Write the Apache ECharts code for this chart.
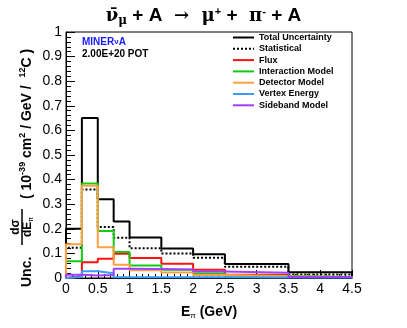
<!DOCTYPE html>
<html>
<head>
    <meta charset="UTF-8">
    <title>Cross section uncertainties vs pion energy</title>
    <script src="https://cdn.jsdelivr.net/npm/echarts@6/dist/echarts.min.js"></script>
    <style>
        html, body { margin: 0; padding: 0; background: #fff; }
        #chart { width: 407px; height: 328px; }
    </style>
</head>
<body>
<div id="chart"></div>
<script>
    // bin edges (GeV) and fractional uncertainty per bin
    const binEdges = [0, 0.25, 0.5, 0.75, 1, 1.5, 2, 2.5, 3.5, 4.5];
    const xTicks = [0, 0.5, 1, 1.5, 2, 2.5, 3, 3.5, 4, 4.5];
    const yTicks = [0, 0.1, 0.2, 0.3, 0.4, 0.5, 0.6, 0.7, 0.8, 0.9, 1];

    const totalUnc       = [0.200, 0.650, 0.320, 0.230, 0.165, 0.120, 0.097, 0.057, 0.023];
    const statUnc        = [0.123, 0.360, 0.207, 0.164, 0.121, 0.100, 0.082, 0.046, 0.014];
    const fluxUnc        = [0.007, 0.064, 0.078, 0.099, 0.081, 0.058, 0.034, 0.013, 0.004];
    const interactionUnc = [0.068, 0.384, 0.191, 0.106, 0.051, 0.034, 0.018, 0.009, 0.004];
    const detectorUnc    = [0.137, 0.375, 0.125, 0.054, 0.031, 0.022, 0.012, 0.007, 0.004];
    const vertexUnc      = [0.004, 0.027, 0.019, 0.003, 0.003, 0.003, 0.003, 0.002, 0.002];
    const sidebandUnc    = [0.013, 0.010, 0.012, 0.038, 0.037, 0.035, 0.026, 0.021, 0.004];

    const seriesDefs = [
        { name: 'Total Uncertainty', data: totalUnc, color: '#000000', type: 'solid' },
        { name: 'Statistical', data: statUnc, color: '#000000', type: [2, 2] },
        { name: 'Flux', data: fluxUnc, color: '#ff1111', type: 'solid' },
        { name: 'Interaction Model', data: interactionUnc, color: '#11cc11', type: 'solid' },
        { name: 'Detector Model', data: detectorUnc, color: '#ffa040', type: 'solid' },
        { name: 'Vertex Energy', data: vertexUnc, color: '#3a9cff', type: 'solid' },
        { name: 'Sideband Model', data: sidebandUnc, color: '#a040ff', type: 'solid' }
    ];

    const FONT = 'Liberation Sans, Arial, Helvetica, sans-serif';

    // histogram outline: points at bin edges, drawn with step 'end'
    function histPoints(vals) {
        const pts = [[binEdges[0], 0]];
        vals.forEach((v, i) => pts.push([binEdges[i], v]));
        pts.push([binEdges[binEdges.length - 1], vals[vals.length - 1]]);
        pts.push([binEdges[binEdges.length - 1], 0]);
        return pts;
    }

    const chart = echarts.init(document.getElementById('chart'));

    const option = {
        animation: false,
        title: {
            left: 'center',
            top: 0,
            text: '{nu|\u03bd\u0304}{sub|\u03bc}{b| + A }{g| \u2192  \u03bc}{sup|+}{b| + }{g| \u03c0}{sup|-}{b| + A}',
            textStyle: {
                rich: {
                    b: { fontFamily: FONT, fontWeight: 'bold', fontSize: 19, color: '#000' },
                    g: { fontFamily: 'DejaVu Serif', fontSize: 18, color: '#000' },
                    nu: { fontFamily: 'DejaVu Serif', fontSize: 18, color: '#000' },
                    sub: { fontFamily: 'DejaVu Serif', fontSize: 12, color: '#000', padding: [10, 0, 0, 0] },
                    sup: { fontFamily: FONT, fontWeight: 'bold', fontSize: 11, color: '#000', padding: [0, 0, 9, 0] }
                }
            }
        },
        grid: {
            left: 66, right: 55, top: 32, bottom: 50,
            show: true, borderColor: '#000', borderWidth: 1, backgroundColor: '#fff'
        },
        legend: {
            orient: 'vertical',
            left: 227,
            top: 28,
            itemWidth: 21,
            itemHeight: 9,
            itemGap: 2.3,
            selectedMode: false,
            itemStyle: { opacity: 0 },
            textStyle: { fontFamily: FONT, fontWeight: 'bold', fontSize: 9, color: '#000' },
            data: seriesDefs.map(s => s.name)
        },
        xAxis: {
            type: 'value',
            min: xTicks[0],
            max: xTicks[xTicks.length - 1],
            interval: 0.5,
            axisLine: { onZero: false, lineStyle: { color: '#000', width: 1 } },
            axisTick: { inside: true, length: 8, lineStyle: { color: '#000' } },
            minorTick: { show: true, splitNumber: 5, length: 4, lineStyle: { color: '#000' } },
            splitLine: { show: false },
            axisLabel: { margin: 4, fontFamily: FONT, fontSize: 14, color: '#000', showMinLabel: true, showMaxLabel: true },
            name: '{b|E}{sub|\u03c0}{b| (GeV)}',
            nameLocation: 'middle',
            nameGap: 27,
            nameTextStyle: {
                rich: {
                    b: { fontFamily: FONT, fontWeight: 'bold', fontSize: 14, color: '#000' },
                    sub: { fontFamily: FONT, fontSize: 8, color: '#000', padding: [7, 0, 0, 0] }
                }
            }
        },
        yAxis: {
            type: 'value',
            min: yTicks[0],
            max: yTicks[yTicks.length - 1],
            interval: 0.1,
            axisLine: { show: true, lineStyle: { color: '#000', width: 1 } },
            axisTick: { show: true, inside: true, length: 9, lineStyle: { color: '#000' } },
            minorTick: { show: true, splitNumber: 5, length: 5, lineStyle: { color: '#000' } },
            splitLine: { show: false },
            axisLabel: { margin: 4, fontFamily: FONT, fontSize: 14, color: '#000' }
        },
        graphic: [
            {
                type: 'text', left: 82, top: 37,
                style: {
                    text: '{a|MINER}{n|\u03bd}{a|A}',
                    rich: {
                        a: { fontFamily: FONT, fontWeight: 'bold', fontSize: 10, fill: '#1a1aff' },
                        n: { fontFamily: FONT, fontWeight: 'bold', fontSize: 8, fill: '#1a1aff' }
                    }
                }
            },
            {
                type: 'text', left: 82, top: 49,
                style: { text: '2.00E+20 POT', fontFamily: FONT, fontWeight: 'bold', fontSize: 10, fill: '#000' }
            },
            // rotated y-axis title
            {
                type: 'group',
                x: 27, y: 287,
                rotation: Math.PI / 2,
                children: [
                    {
                        type: 'text', x: 0, y: 0,
                        style: { text: 'Unc.', fontFamily: FONT, fontWeight: 'bold', fontSize: 14, fill: '#000', align: 'left', verticalAlign: 'middle' }
                    },
                    {
                        type: 'text', x: 60, y: -11,
                        style: { text: 'd\u03c3', fontFamily: FONT, fontWeight: 'bold', fontSize: 12, fill: '#000', align: 'center', verticalAlign: 'middle' }
                    },
                    {
                        type: 'line',
                        shape: { x1: 42, y1: -5, x2: 78, y2: -5 },
                        style: { stroke: '#000', lineWidth: 1.5 }
                    },
                    {
                        type: 'text', x: 60, y: 1,
                        style: {
                            text: '{b|dE}{s|\u03c0}',
                            align: 'center', verticalAlign: 'middle',
                            rich: {
                                b: { fontFamily: FONT, fontWeight: 'bold', fontSize: 12, fill: '#000' },
                                s: { fontFamily: FONT, fontSize: 7, fill: '#000', padding: [6, 0, 0, 0] }
                            }
                        }
                    },
                    {
                        type: 'text', x: 88, y: 0,
                        style: {
                            text: '{b|( 10}{s|-39}{b| cm}{s|2}{b| / GeV /  }{s|12}{b|C )}',
                            align: 'left', verticalAlign: 'middle',
                            rich: {
                                b: { fontFamily: FONT, fontWeight: 'bold', fontSize: 14, fill: '#000' },
                                s: { fontFamily: FONT, fontWeight: 'bold', fontSize: 9, fill: '#000', padding: [0, 0, 8, 0] }
                            }
                        }
                    }
                ]
            }
        ],
        series: seriesDefs.map(s => ({
            name: s.name,
            type: 'line',
            step: 'end',
            symbol: 'none',
            showSymbol: false,
            data: histPoints(s.data),
            color: s.color,
            lineStyle: { color: s.color, width: 2, type: s.type }
        }))
    };

    chart.setOption(option);
</script>
</body>
</html>
